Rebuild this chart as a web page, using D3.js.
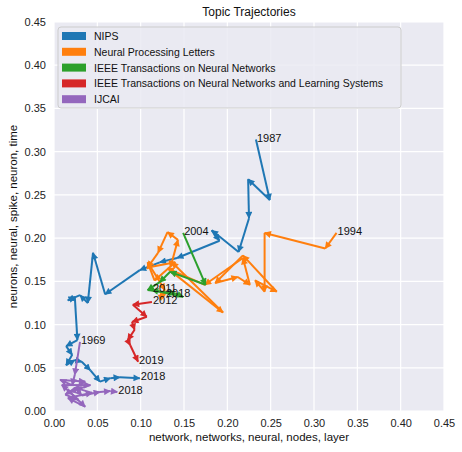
<!DOCTYPE html>
<html>
<head>
<meta charset="utf-8">
<script src="https://cdn.jsdelivr.net/npm/d3@7"></script>
<style>
body { margin: 0; background: #fff; font-family: "Liberation Sans", Arial, sans-serif; }
</style>
</head>
<body>
<div id="chart-area"></div>
<script>
// Data: [x, y] per year
let nips = [[0.233,0.314],[0.249,0.244],[0.224,0.268],[0.225,0.223],[0.213,0.184],[0.182,0.209],
    [0.191,0.197],[0.142,0.177],[0.122,0.172],[0.099,0.163],[0.059,0.135],[0.045,0.183],[0.039,0.125],
    [0.030,0.134],[0.016,0.128],[0.024,0.132],[0.027,0.082],[0.014,0.075],[0.021,0.065],[0.014,0.053],
    [0.024,0.059],[0.032,0.057],[0.042,0.047],[0.053,0.034],[0.065,0.038],[0.076,0.039],[0.099,0.038]];
let npl = [[0.326,0.206],[0.313,0.188],[0.243,0.206],[0.243,0.138],[0.232,0.151],[0.257,0.138],
    [0.218,0.180],[0.186,0.148],[0.212,0.155],[0.226,0.146],[0.218,0.177],[0.174,0.146],[0.131,0.165],
    [0.195,0.114],[0.136,0.172],[0.143,0.198],[0.131,0.207],[0.120,0.183],[0.108,0.166],[0.140,0.172],
    [0.116,0.151],[0.108,0.172],[0.128,0.140],[0.122,0.131],[0.128,0.134]];
let tnn = [[0.149,0.206],[0.175,0.146],[0.134,0.161],[0.122,0.149],[0.108,0.140],[0.140,0.136],
    [0.149,0.132],[0.113,0.140]];
let tnnls = [[0.113,0.126],[0.091,0.123],[0.107,0.109],[0.090,0.103],[0.093,0.094],[0.085,0.082],
    [0.088,0.076],[0.097,0.057]];
let ijcai = [[0.030,0.080],[0.024,0.042],[0.021,0.030],[0.007,0.036],[0.036,0.034],[0.013,0.019],
    [0.028,0.013],[0.009,0.030],[0.042,0.030],[0.018,0.022],[0.036,0.005],[0.016,0.015],[0.044,0.021],
    [0.024,0.027],[0.032,0.018],[0.053,0.022],[0.065,0.023],[0.073,0.022]];

let names = ["NIPS", "Neural Processing Letters", "IEEE Transactions on Neural Networks",
    "IEEE Transactions on Neural Networks and Learning Systems", "IJCAI"];
let series = [nips, npl, tnn, tnnls, ijcai];
let startYears = ["1987", "1994", "2004", "2012", "1969"];
let endYears = ["2018", "2018", "2011", "2019", "2018"];
let colors = ["#1f77b4", "#ff7f0e", "#2ca02c", "#d62728", "#9467bd"];
let ticks = [0, 0.05, 0.1, 0.15, 0.2, 0.25, 0.3, 0.35, 0.4, 0.45];

let margin = { top: 22, right: 18, bottom: 41, left: 54 };
let width = 462 - margin.left - margin.right,
    height = 452 - margin.top - margin.bottom;

let root = d3.select("#chart-area").append("svg")
    .attr("width", 462).attr("height", 452);
let svg = root.append("g")
    .attr("transform", "translate(" + margin.left + "," + margin.top + ")");

let x = d3.scaleLinear().domain([0, 0.45]).range([0, width]);
let y = d3.scaleLinear().domain([0, 0.45]).range([height, 0]);

svg.append("rect").attr("width", width).attr("height", height).attr("fill", "#eaeaf2");

// grid
svg.selectAll(".gx").data(ticks).enter().append("line")
    .attr("x1", d => x(d)).attr("x2", d => x(d)).attr("y1", 0).attr("y2", height)
    .attr("stroke", "#fff").attr("stroke-width", 1.2);
svg.selectAll(".gy").data(ticks).enter().append("line")
    .attr("y1", d => y(d)).attr("y2", d => y(d)).attr("x1", 0).attr("x2", width)
    .attr("stroke", "#fff").attr("stroke-width", 1.2);

let xAxis = d3.axisBottom(x).tickValues(ticks).tickFormat(d3.format(".2f")).tickSize(0).tickPadding(8);
let yAxis = d3.axisLeft(y).tickValues(ticks).tickFormat(d3.format(".2f")).tickSize(0).tickPadding(8);
let xg = svg.append("g").attr("transform", "translate(0," + height + ")").call(xAxis);
let yg = svg.append("g").call(yAxis);
[xg, yg].forEach(g => {
    g.select(".domain").remove();
    g.selectAll("text").attr("font-size", 11).attr("fill", "#222")
        .attr("font-family", "Liberation Sans, Arial, sans-serif");
});

// arrowheads
let defs = root.append("defs");
colors.forEach((c, i) => {
    defs.append("marker").attr("id", "arr" + i)
        .attr("viewBox", "0 0 10 10").attr("refX", 9).attr("refY", 5)
        .attr("markerUnits", "userSpaceOnUse")
        .attr("markerWidth", 8).attr("markerHeight", 7).attr("orient", "auto")
        .append("path").attr("d", "M0,0L10,5L0,10Z").attr("fill", c);
});

series.forEach((s, i) => {
    let segs = d3.pairs(s);
    svg.selectAll(".seg" + i).data(segs).enter().append("line")
        .attr("x1", d => x(d[0][0])).attr("y1", d => y(d[0][1]))
        .attr("x2", d => x(d[1][0])).attr("y2", d => y(d[1][1]))
        .attr("stroke", colors[i]).attr("stroke-width", 2)
        .attr("marker-end", "url(#arr" + i + ")");
});

series.forEach((s, i) => {
    let first = s[0], last = s[s.length - 1];
    [[first, startYears[i]], [last, endYears[i]]].forEach(p => {
        svg.append("text").attr("x", x(p[0][0]) + 1).attr("y", y(p[0][1]) + 2)
            .attr("font-size", 11).attr("fill", "#111").text(p[1]);
    });
});

// legend
let lg = svg.append("g").attr("transform", "translate(4,5)");
lg.append("rect").attr("width", 343).attr("height", 81).attr("rx", 3)
    .attr("fill", "#eaeaf2").attr("fill-opacity", 0.85).attr("stroke", "#ccc");
names.forEach((n, i) => {
    lg.append("rect").attr("x", 4).attr("y", 5 + i * 15.8).attr("width", 24).attr("height", 8)
        .attr("fill", colors[i]);
    lg.append("text").attr("x", 36).attr("y", 13 + i * 15.8).attr("font-size", 10.5)
        .attr("fill", "#111").text(n);
});

root.append("text").attr("x", margin.left + width / 2).attr("y", 16).attr("text-anchor", "middle")
    .attr("font-size", 12).attr("fill", "#111").text("Topic Trajectories");
root.append("text").attr("x", margin.left + width / 2).attr("y", 441).attr("text-anchor", "middle")
    .attr("font-size", 11.5).attr("fill", "#111").text("network, networks, neural, nodes, layer");
root.append("text").attr("transform", "translate(17," + (margin.top + height / 2) + ") rotate(-90)")
    .attr("text-anchor", "middle").attr("font-size", 11.5).attr("fill", "#111")
    .text("neurons, neural, spike, neuron, time");
</script>
</body>
</html>
